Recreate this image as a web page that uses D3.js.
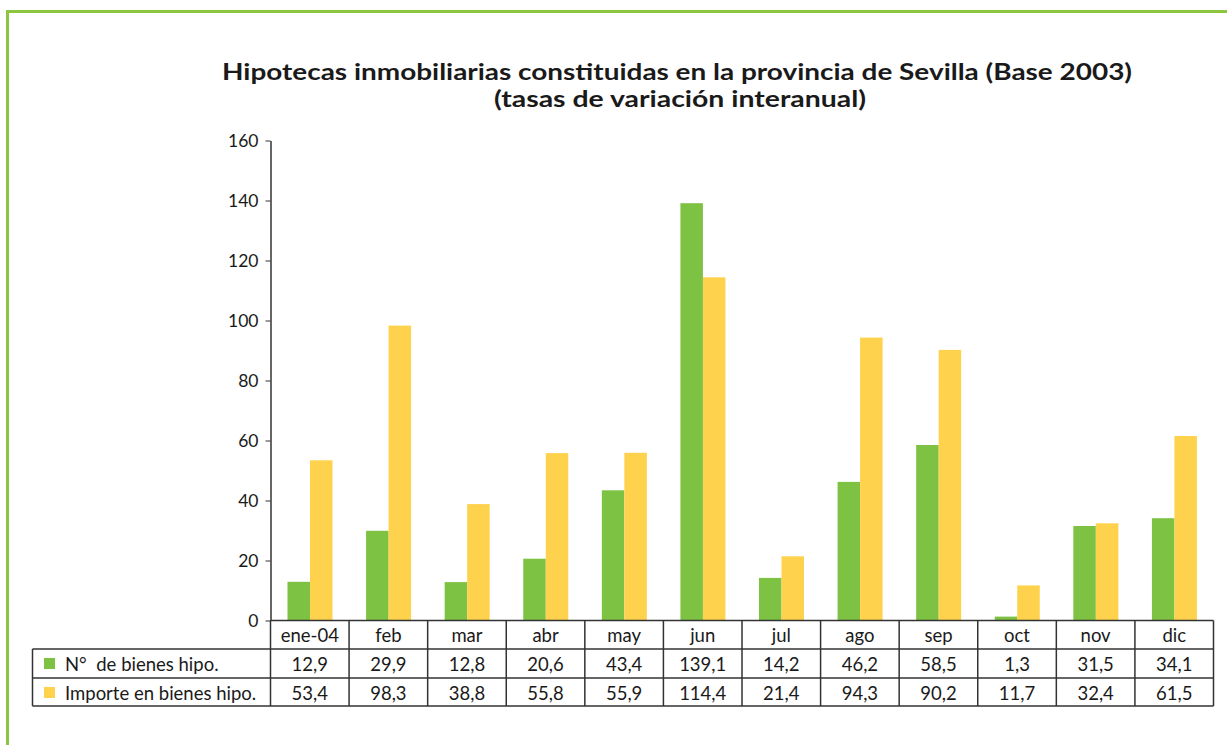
<!DOCTYPE html>
<html lang="es">
  <head>
    <meta charset="UTF-8" />
    <title>Hipotecas inmobiliarias Sevilla</title>
    <style>
      body { margin: 0; background: white; }
      svg { display: block; font-family: Lato, "Open Sans", sans-serif; }
    </style>
  </head>
  <body>
    <svg width="1227" height="745"></svg>
    <script src="https://d3js.org/d3.v7.min.js"></script>
    <script>
      const months = ["ene-04", "feb", "mar", "abr", "may", "jun", "jul", "ago", "sep", "oct", "nov", "dic"];
      const numBienes = [12.9, 29.9, 12.8, 20.6, 43.4, 139.1, 14.2, 46.2, 58.5, 1.3, 31.5, 34.1];
      const importeBienes = [53.4, 98.3, 38.8, 55.8, 55.9, 114.4, 21.4, 94.3, 90.2, 11.7, 32.4, 61.5];
      const seriesNames = ["N°  de bienes hipo.", "Importe en bienes hipo."];
      const yTicks = [0, 20, 40, 60, 80, 100, 120, 140, 160];

      const colors = ["#7dc242", "#fed24c"];
      const fmt = (v) => String(v).replace(".", ",");

      const svg = d3.select("svg");

      // green frame
      svg.append("rect")
        .attr("x", 7.5).attr("y", 11.5)
        .attr("width", 1300).attr("height", 800)
        .attr("fill", "none")
        .attr("stroke", "#8cc63f")
        .attr("stroke-width", 3);

      // title
      const title = svg.append("g")
        .attr("text-anchor", "middle")
        .attr("font-weight", "bold")
        .attr("font-size", 23.5)
        .attr("fill", "#1a1a1a");
      title.append("text").attr("x", 677).attr("y", 80)
        .attr("textLength", 910).attr("lengthAdjust", "spacingAndGlyphs")
        .text("Hipotecas inmobiliarias constituidas en la provincia de Sevilla (Base 2003)");
      title.append("text").attr("x", 680).attr("y", 107)
        .attr("textLength", 372).attr("lengthAdjust", "spacingAndGlyphs")
        .text("(tasas de variación interanual)");

      const plotLeft = 270.5, plotRight = 1213.5, plotTop = 140.5, plotBottom = 620.5;

      const x = d3.scaleBand().domain(months).range([plotLeft, plotRight]).paddingInner(0).paddingOuter(0);
      const xSub = d3.scaleBand().domain([0, 1]).range([17, 62]);
      const y = d3.scaleLinear().domain([0, 160]).range([plotBottom, plotTop]);

      // bars
      const groups = svg.append("g")
        .selectAll("g")
        .data(months)
        .join("g")
        .attr("transform", (d) => `translate(${x(d)},0)`);

      [numBienes, importeBienes].forEach((series, s) => {
        groups.append("rect")
          .attr("x", xSub(s))
          .attr("width", xSub.bandwidth())
          .attr("y", (d, i) => y(series[i]))
          .attr("height", (d, i) => y(0) - y(series[i]))
          .attr("fill", colors[s]);
      });

      // y axis
      const yAxis = svg.append("g")
        .attr("transform", `translate(${plotLeft},0)`)
        .call(d3.axisLeft(y).tickValues(yTicks).tickSize(5).tickSizeOuter(0).tickPadding(7));
      yAxis.select(".domain").attr("stroke", "#333").attr("stroke-width", 1.5);
      yAxis.selectAll(".tick line").attr("stroke", "#333");
      yAxis.selectAll(".tick text")
        .attr("font-size", 17.5)
        .attr("fill", "#1a1a1a")
        .style("font-family", "Lato, sans-serif");

      // data table
      const rowH = [28.5, 29, 28];
      const rowTop = [plotBottom, plotBottom + rowH[0], plotBottom + rowH[0] + rowH[1]];
      const tableBottom = rowTop[2] + rowH[2];
      const tableLeft = 32.5;
      const table = svg.append("g").attr("stroke", "#333").attr("stroke-width", 1.5);

      // horizontal lines
      table.append("line").attr("x1", plotLeft).attr("x2", plotRight).attr("y1", rowTop[0]).attr("y2", rowTop[0]);
      [rowTop[1], rowTop[2], tableBottom].forEach((yy) => {
        table.append("line").attr("x1", tableLeft).attr("x2", plotRight).attr("y1", yy).attr("y2", yy);
      });
      // vertical lines
      table.append("line").attr("x1", tableLeft).attr("x2", tableLeft).attr("y1", rowTop[1]).attr("y2", tableBottom);
      months.concat(["end"]).forEach((m, i) => {
        const xx = i < months.length ? x(m) : plotRight;
        table.append("line").attr("x1", xx).attr("x2", xx).attr("y1", rowTop[0]).attr("y2", tableBottom);
      });

      const cellText = svg.append("g")
        .attr("font-size", 18.5)
        .attr("fill", "#1a1a1a")
        .attr("text-anchor", "middle");

      cellText.selectAll("text.m")
        .data(months)
        .join("text")
        .attr("class", "m")
        .attr("x", (d) => x(d) + x.bandwidth() / 2)
        .attr("y", rowTop[0] + 21)
        .text((d) => d);

      [numBienes, importeBienes].forEach((series, s) => {
        cellText.selectAll("text.v" + s)
          .data(series)
          .join("text")
          .attr("class", "v" + s)
          .attr("x", (d, i) => x(months[i]) + x.bandwidth() / 2)
          .attr("y", rowTop[s + 1] + 22)
          .text((d) => fmt(d));

        svg.append("rect")
          .attr("x", 44).attr("y", rowTop[s + 1] + 9)
          .attr("width", 11).attr("height", 11)
          .attr("fill", colors[s]);
        svg.append("text")
          .attr("x", 65).attr("y", rowTop[s + 1] + 22)
          .attr("font-size", 18.5)
          .attr("fill", "#1a1a1a")
          .style("white-space", "pre")
          .text(seriesNames[s]);
      });
    </script>
  </body>
</html>
